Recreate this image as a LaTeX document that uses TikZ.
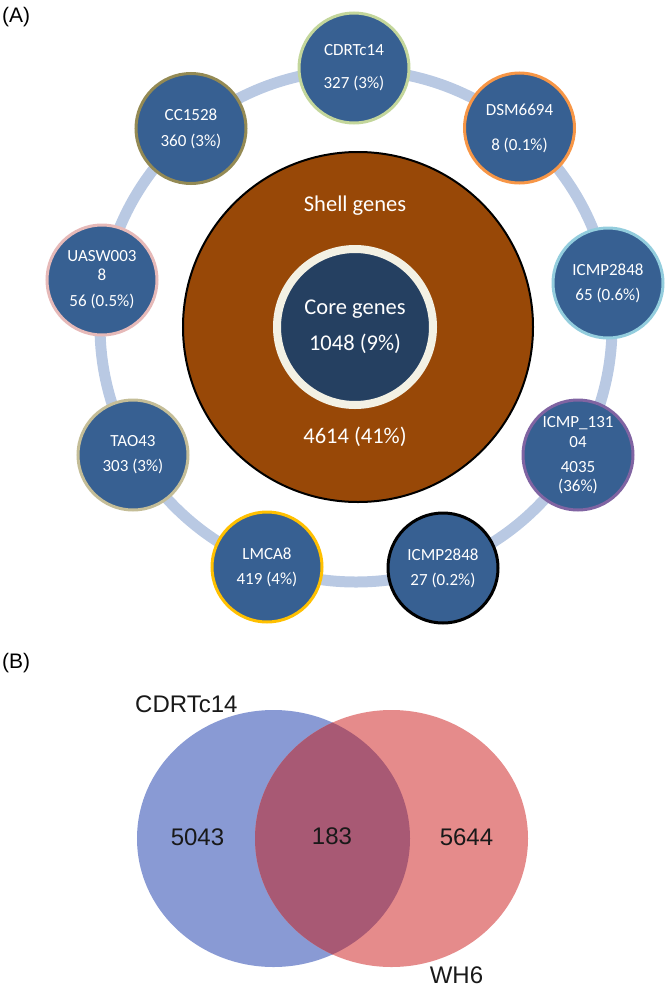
\documentclass[tikz,border=0pt]{standalone}
\usepackage{fontspec}
\setmainfont{Liberation Sans}
\newfontfamily\carlito{Carlito}
\usetikzlibrary{shapes.geometric}
\definecolor{nodeblue}{RGB}{55,96,146}
\definecolor{ringblue}{RGB}{185,201,227}
\definecolor{shellbrown}{RGB}{152,72,7}
\definecolor{corenavy}{RGB}{37,64,97}
\definecolor{corecream}{RGB}{243,241,228}
\definecolor{bcdrt}{RGB}{195,214,155}
\definecolor{bdsm}{RGB}{247,150,70}
\definecolor{bicmpr}{RGB}{147,205,221}
\definecolor{bicmpp}{RGB}{128,100,162}
\definecolor{blmca}{RGB}{255,192,0}
\definecolor{btao}{RGB}{196,189,151}
\definecolor{buasw}{RGB}{230,185,184}
\definecolor{bcc}{RGB}{148,138,84}
\definecolor{vblue}{RGB}{137,154,212}
\definecolor{vred}{RGB}{229,139,139}
\definecolor{vover}{RGB}{168,89,116}
\begin{document}
\begin{tikzpicture}[x=1bp,y=-1bp,
  gnode/.style={circle, minimum size=110bp, inner sep=0pt, fill=nodeblue,
    line width=3bp, text=white, align=center,
    font=\carlito\fontsize{17bp}{20bp}\selectfont},
  bigtxt/.style={text=white, inner sep=0pt, anchor=base,
    font=\carlito\fontsize{22.5bp}{27bp}\selectfont},
  paneltxt/.style={inner sep=0pt, anchor=base west, font=\fontsize{21bp}{25bp}\selectfont},
  venntxt/.style={inner sep=0pt, anchor=base, font=\fontsize{24bp}{28bp}\selectfont, text=black!90}]
\useasboundingbox (0,0) rectangle (666,987);

% panel labels
\node[paneltxt] (labA) at (2,22) {(A)};
\node[paneltxt] (labB) at (2,668) {(B)};

% ring
\coordinate (ringc) at (356,326);
\draw[ringblue, line width=11bp] (ringc) circle (256bp);

% shell and core
\node[circle, minimum size=350bp, inner sep=0pt, fill=shellbrown, draw=black, line width=2bp] (shell) at (358,327) {};
\node[bigtxt] (shelltxt) at (355,211) {Shell genes};
\node[bigtxt] (shellnum) at (355,443) {4614 (41\%)};
\node[circle, minimum size=156bp, inner sep=0pt, fill=corenavy, draw=corecream, line width=8bp,
  text=white, align=center, font=\carlito\fontsize{22.5bp}{27bp}\selectfont] (core) at (355,327)
  {Core genes\\[9bp]1048 (9\%)};

% genome nodes
\node[gnode, draw=bcdrt] (cdrt) at (354,68) {CDRTc14\\[13bp]327 (3\%)};
\node[gnode, draw=bcc] (cc) at (191,128.5) {CC1528\\[6bp]360 (3\%)};
\node[gnode, draw=bdsm] (dsm) at (519.5,128) {DSM6694\\[15bp]8 (0.1\%)};
\node[gnode, draw=buasw] (uasw) at (102,280) {UASW003\\[-1bp]8\\[6bp]56 (0.5\%)};
\node[gnode, draw=bicmpr] (icmpr) at (608,283) {ICMP2848\\[5bp]65 (0.6\%)};
\node[gnode, draw=btao] (tao) at (133,455) {TAO43\\[5bp]303 (3\%)};
\node[gnode, draw=blmca] (lmca) at (267,567) {LMCA8\\[5bp]419 (4\%)};
\node[gnode, draw=black] (icmpb) at (443,568) {ICMP2848\\[5bp]27 (0.2\%)};
\node[gnode, draw=bicmpp] (icmpp) at (578,455) {ICMP\_131\\[0bp]04\\[5bp]4035\\[-1bp](36\%)};

% Venn diagram
\fill[vblue] (273.5,838.5) ellipse [x radius=136.5bp, y radius=128.5bp];
\fill[vred] (391.5,838.5) ellipse [x radius=136.5bp, y radius=128.5bp];
\begin{scope}
  \clip (273.5,838.5) ellipse [x radius=136.5bp, y radius=128.5bp];
  \fill[vover] (391.5,838.5) ellipse [x radius=136.5bp, y radius=128.5bp];
\end{scope}
\node[venntxt, anchor=base west] (vA) at (135,712) {CDRTc14};
\node[venntxt] (vB) at (456.5,983) {WH6};
\node[venntxt] (n1) at (197.5,845) {5043};
\node[venntxt] (n2) at (332,844) {183};
\node[venntxt] (n3) at (466.5,845) {5644};
\end{tikzpicture}
\end{document}
